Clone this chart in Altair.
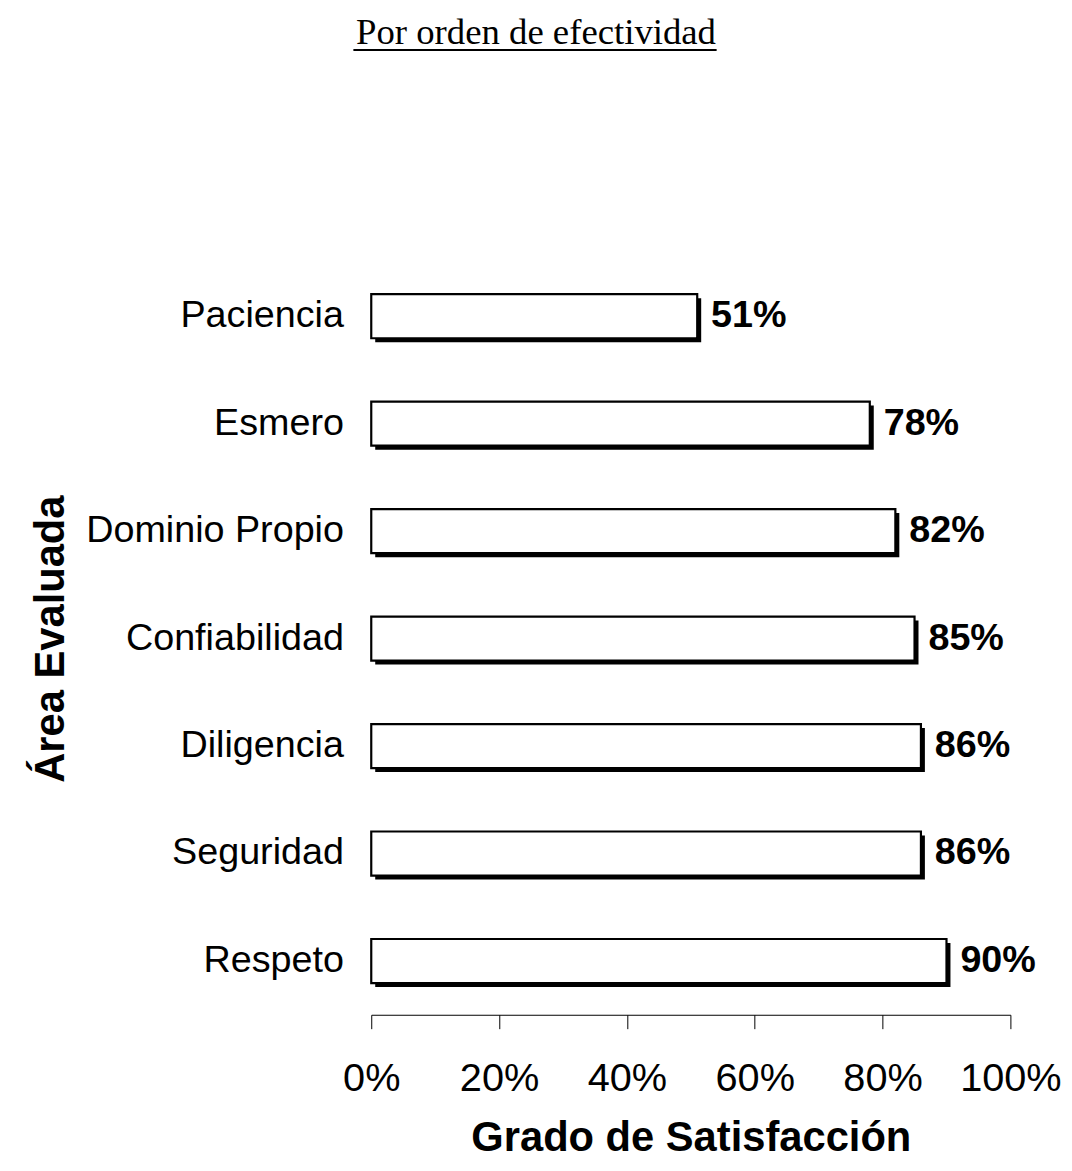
import altair as alt
import pandas as pd

categories = ["Paciencia", "Esmero", "Dominio Propio", "Confiabilidad",
              "Diligencia", "Seguridad", "Respeto"]
values = [0.51, 0.78, 0.82, 0.85, 0.86, 0.86, 0.90]
labels = ["51%", "78%", "82%", "85%", "86%", "86%", "90%"]
tick_values = [0, 0.2, 0.4, 0.6, 0.8, 1.0]
chart_title = ["Por orden de efectividad"]

df = pd.DataFrame({"area": categories, "value": values, "label": labels})

FONT = "Liberation Sans"

y = alt.Y(
    "area:N", sort=categories, title="Área Evaluada",
    scale=alt.Scale(paddingInner=0.59, paddingOuter=0.295),
    axis=alt.Axis(domain=False, ticks=False, tickSize=0, labelPadding=28,
                  labelLimit=0,
                  labelFontSize=38, labelFont=FONT, labelColor="black",
                  titleFontSize=42, titleFont=FONT, titleFontWeight="bold",
                  titleColor="black", titleX=-323, titleY=379,
                  titleAngle=270, titleBaseline="middle", titleAlign="center"),
)
x = alt.X(
    "value:Q", scale=alt.Scale(domain=[0, 1]), title="Grado de Satisfacción",
    axis=alt.Axis(format="%", values=tick_values, grid=False,
                  labelFlush=False, labelOverlap=False, labelLimit=0,
                  domainColor="black", domainWidth=1, tickColor="black",
                  tickSize=14, labelPadding=30, labelFontSize=40, labelFont=FONT,
                  labelColor="black", titleFontSize=42, titleFont=FONT,
                  titleFontWeight="bold", titleColor="black", titlePadding=20),
)

base = alt.Chart(df)

shadow = base.mark_bar(color="black", xOffset=4, yOffset=4).encode(x=x, y=y)
bars = base.mark_bar(fill="white", stroke="black", strokeWidth=2.2).encode(x=x, y=y)
text = base.mark_text(align="left", baseline="middle", dx=14, fontSize=38,
                      fontWeight="bold", font=FONT, color="black").encode(
    x=x, y=y, text="label:N")

tdf = pd.DataFrame({"t": chart_title})
title_text = alt.Chart(tdf).mark_text(
    font="Liberation Serif", fontSize=37, color="black",
    align="center", baseline="alphabetic").encode(
    x=alt.value(166), y=alt.value(-220), text="t:N")

underline = alt.Chart(tdf).mark_rule(
    color="black", strokeWidth=2).encode(
    x=alt.value(-18), x2=alt.value(348), y=alt.value(-214))

chart = alt.layer(shadow, bars, text, title_text, underline).properties(
    width=644, height=758,
    autosize=alt.AutoSizeParams(type="none"),
    padding={"left": 366, "top": 252, "right": 54, "bottom": 150},
).configure_view(stroke=None)

chart.save("out.html", embed_options={"renderer": "svg", "actions": False})
